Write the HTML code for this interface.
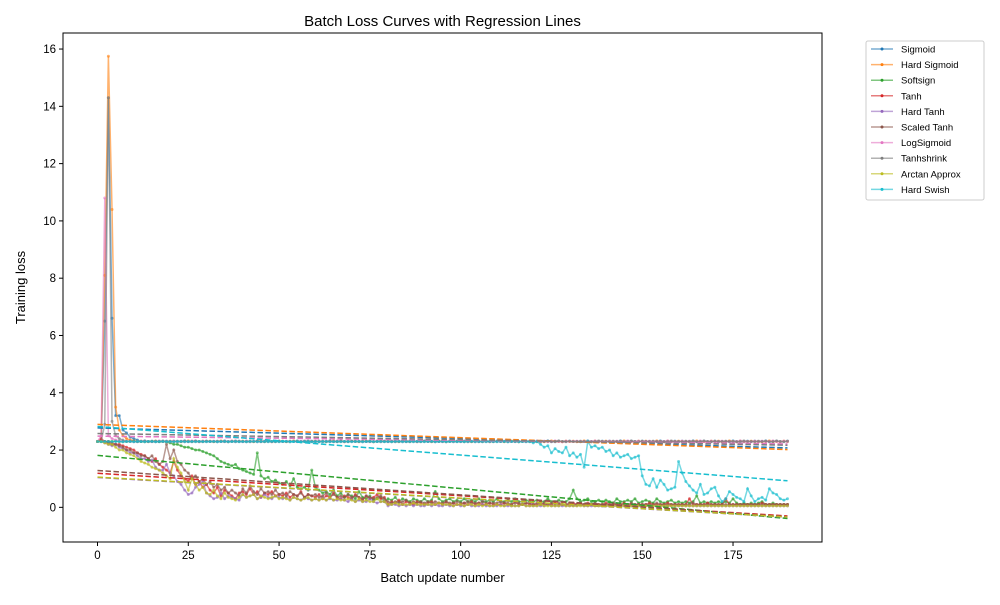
<!DOCTYPE html>
<html><head><meta charset="utf-8"><style>
body{margin:0;background:#fff;font-family:"Liberation Sans",sans-serif}
svg text{font-family:"Liberation Sans",sans-serif}
</style></head><body>
<svg id="chart" width="1000" height="600" viewBox="0 0 1000 600"></svg>
<script>
const names=["Sigmoid","Hard Sigmoid","Softsign","Tanh","Hard Tanh","Scaled Tanh","LogSigmoid","Tanhshrink","Arctan Approx","Hard Swish"];
const colors=["#1f77b4","#ff7f0e","#2ca02c","#d62728","#9467bd","#8c564b","#e377c2","#7f7f7f","#bcbd22","#17becf"];
const xTicks=[0,25,50,75,100,125,150,175];
const yTicks=[0,2,4,6,8,10,12,14,16];
const sSigmoid=[2.3,2.32,6.5,14.3,6.6,3.2,3.2,2.7,2.6,2.45,
2.4,2.35,2.3,2.32,2.3,2.31,2.3,2.29,2.3,2.31,
2.3,2.31,2.29,2.3,2.32,2.3,2.29,2.31,2.3,2.3,
2.31,2.3,2.3,2.29,2.3,2.32,2.3,2.3,2.29,2.31,
2.3,2.31,2.29,2.3,2.32,2.3,2.29,2.31,2.3,2.3,
2.31,2.3,2.3,2.29,2.3,2.32,2.3,2.3,2.29,2.31,
2.3,2.31,2.29,2.3,2.32,2.3,2.29,2.31,2.3,2.3,
2.31,2.3,2.3,2.29,2.3,2.32,2.3,2.3,2.29,2.31,
2.3,2.31,2.29,2.3,2.32,2.3,2.29,2.31,2.3,2.3,
2.31,2.3,2.3,2.29,2.3,2.32,2.3,2.3,2.29,2.31,
2.3,2.31,2.29,2.3,2.32,2.3,2.29,2.31,2.3,2.3,
2.31,2.3,2.3,2.29,2.3,2.32,2.3,2.3,2.29,2.31,
2.3,2.31,2.29,2.3,2.32,2.3,2.29,2.31,2.3,2.3,
2.31,2.3,2.3,2.29,2.3,2.32,2.3,2.3,2.29,2.31,
2.3,2.31,2.29,2.3,2.32,2.3,2.29,2.31,2.3,2.3,
2.31,2.3,2.3,2.29,2.3,2.32,2.3,2.3,2.29,2.31,
2.3,2.31,2.29,2.3,2.32,2.3,2.29,2.31,2.3,2.3,
2.31,2.3,2.3,2.29,2.3,2.32,2.3,2.3,2.29,2.31,
2.3,2.31,2.29,2.3,2.32,2.3,2.29,2.31,2.3,2.3,
2.31];
const sHardSigmoid=[2.3,2.3,8.1,15.75,10.4,3.5,2.7,2.5,2.4,2.35,
2.32,2.3,2.31,2.3,2.29,2.3,2.31,2.3,2.3,2.29,
2.31,2.3,2.3,2.29,2.3,2.32,2.3,2.3,2.29,2.31,
2.3,2.31,2.29,2.3,2.32,2.3,2.29,2.31,2.3,2.3,
2.31,2.3,2.3,2.29,2.3,2.32,2.3,2.3,2.29,2.31,
2.3,2.31,2.29,2.3,2.32,2.3,2.29,2.31,2.3,2.3,
2.31,2.3,2.3,2.29,2.3,2.32,2.3,2.3,2.29,2.31,
2.3,2.31,2.29,2.3,2.32,2.3,2.29,2.31,2.3,2.3,
2.31,2.3,2.3,2.29,2.3,2.32,2.3,2.3,2.29,2.31,
2.3,2.31,2.29,2.3,2.32,2.3,2.29,2.31,2.3,2.3,
2.31,2.3,2.3,2.29,2.3,2.32,2.3,2.3,2.29,2.31,
2.3,2.31,2.29,2.3,2.32,2.3,2.29,2.31,2.3,2.3,
2.31,2.3,2.3,2.29,2.3,2.32,2.3,2.3,2.29,2.31,
2.3,2.31,2.29,2.3,2.32,2.3,2.29,2.31,2.3,2.3,
2.31,2.3,2.3,2.29,2.3,2.32,2.3,2.3,2.29,2.31,
2.3,2.31,2.29,2.3,2.32,2.3,2.29,2.31,2.3,2.3,
2.31,2.3,2.3,2.29,2.3,2.32,2.3,2.3,2.29,2.31,
2.3,2.31,2.29,2.3,2.32,2.3,2.29,2.31,2.3,2.3,
2.31,2.3,2.3,2.29,2.3,2.32,2.3,2.3,2.29,2.31,
2.3];
const sSoftsign=[2.3,2.31,2.29,2.3,2.3,2.31,2.3,2.29,2.3,2.3,
2.31,2.3,2.3,2.29,2.3,2.3,2.31,2.3,2.3,2.28,
2.25,2.2,2.2,2.15,2.1,2.1,2.05,2.0,2.0,1.95,
1.9,1.85,1.8,1.7,1.6,1.55,1.5,1.45,1.5,1.35,
1.3,1.25,1.2,1.15,1.9,1.1,1.0,1.05,0.9,0.95,
0.85,0.8,0.9,0.75,1.0,0.7,0.65,0.7,0.6,1.3,
0.7,0.6,0.5,0.55,0.45,0.6,0.4,0.5,0.35,0.45,
0.4,0.3,0.55,0.35,0.3,0.4,0.25,0.3,0.35,0.2,
0.3,0.25,0.35,0.2,0.3,0.25,0.2,0.3,0.25,0.2,
0.3,0.2,0.25,0.55,0.3,0.2,0.25,0.3,0.2,0.25,
0.2,0.3,0.2,0.25,0.2,0.3,0.2,0.2,0.25,0.2,
0.3,0.2,0.2,0.25,0.2,0.3,0.2,0.2,0.25,0.2,
0.2,0.25,0.2,0.2,0.3,0.2,0.2,0.25,0.2,0.2,
0.3,0.6,0.3,0.2,0.25,0.3,0.2,0.2,0.25,0.2,
0.25,0.2,0.15,0.3,0.2,0.2,0.25,0.2,0.3,0.15,
0.2,0.25,0.2,0.15,0.3,0.2,0.15,0.2,0.25,0.15,
0.2,0.15,0.2,0.15,0.2,0.4,0.15,0.2,0.15,0.2,
0.15,0.2,0.15,0.2,0.15,0.3,0.15,0.1,0.15,0.1,
0.15,0.1,0.15,0.2,0.1,0.1,0.15,0.1,0.1,0.1,
0.1];
const sTanh=[2.3,2.4,2.3,2.3,2.25,2.2,2.2,2.15,2.1,2.05,2.0,1.9,1.85,1.8,1.7,1.6,1.7,1.5,1.4,1.3,
1.2,1.6,1.3,1.1,1.0,0.9,1.1,0.8,0.9,0.7,0.8,0.6,0.5,0.7,0.4,0.6,0.5,0.4,0.3,0.5,
0.55,0.45,0.65,0.45,0.55,0.35,0.5,0.45,0.55,0.4,0.45,0.4,0.5,0.35,0.45,0.4,0.55,0.35,0.45,0.4,
0.35,0.45,0.3,0.4,0.35,0.5,0.35,0.3,0.4,0.35,0.3,0.45,0.35,0.25,0.4,0.3,0.35,0.45,0.3,0.35,
0.1,0.2,0.15,0.25,0.1,0.2,0.15,0.1,0.2,0.15,0.1,0.15,0.2,0.1,0.15,0.1,0.2,0.1,0.15,0.1,
0.1,0.15,0.1,0.2,0.1,0.15,0.1,0.1,0.15,0.1,0.1,0.1,0.15,0.1,0.1,0.2,0.1,0.1,0.15,0.1,
0.1,0.1,0.15,0.1,0.1,0.1,0.15,0.1,0.1,0.1,0.1,0.15,0.1,0.1,0.1,0.15,0.1,0.1,0.1,0.1,
0.15,0.1,0.1,0.1,0.1,0.15,0.1,0.1,0.1,0.1,0.1,0.1,0.15,0.1,0.1,0.1,0.1,0.15,0.1,0.1,
0.1,0.1,0.1,0.3,0.1,0.1,0.1,0.1,0.15,0.1,0.1,0.1,0.1,0.3,0.1,0.1,0.1,0.1,0.1,0.1,
0.1,0.1,0.1,0.15,0.1,0.1,0.1,0.1,0.1,0.1,0.1];
const sHardTanh=[2.3,2.3,2.25,2.2,2.15,2.2,2.1,2.05,2.0,1.9,1.9,1.8,1.7,1.7,1.6,1.65,1.4,1.3,1.3,1.5,
1.2,1.1,0.9,0.8,0.6,0.45,0.5,0.7,0.8,0.9,0.5,0.4,0.3,0.35,0.5,0.3,0.4,0.35,0.3,0.25,
0.45,0.35,0.4,0.45,0.3,0.35,0.45,0.35,0.3,0.4,0.35,0.3,0.35,0.25,0.35,0.3,0.25,0.35,0.3,0.25,
0.3,0.25,0.35,0.25,0.3,0.25,0.25,0.3,0.25,0.2,0.3,0.2,0.25,0.2,0.2,0.3,0.2,0.15,0.2,0.2,
0.05,0.1,0.1,0.05,0.1,0.05,0.1,0.05,0.1,0.05,0.05,0.1,0.05,0.1,0.05,0.05,0.1,0.05,0.05,0.1,
0.05,0.05,0.1,0.05,0.05,0.05,0.1,0.05,0.05,0.05,0.05,0.1,0.05,0.05,0.05,0.05,0.05,0.1,0.05,0.05,
0.05,0.05,0.05,0.05,0.1,0.05,0.05,0.05,0.05,0.05,0.05,0.05,0.05,0.1,0.05,0.05,0.05,0.05,0.05,0.05,
0.05,0.05,0.05,0.05,0.05,0.05,0.05,0.05,0.05,0.05,0.05,0.05,0.05,0.05,0.05,0.05,0.05,0.05,0.05,0.05,
0.05,0.05,0.05,0.05,0.05,0.05,0.05,0.05,0.05,0.05,0.05,0.05,0.05,0.05,0.05,0.05,0.05,0.05,0.05,0.05,
0.05,0.05,0.05,0.05,0.05,0.05,0.05,0.05,0.05,0.05,0.05];
const sScaledTanh=[2.3,2.3,2.3,2.25,2.2,2.2,2.15,2.1,2.0,2.0,1.9,1.9,1.8,1.8,1.7,1.8,1.6,1.5,1.6,2.2,
1.7,2.0,1.6,1.5,1.3,1.2,1.0,1.1,0.9,1.0,0.8,0.9,0.7,0.8,0.6,0.7,0.5,0.6,0.5,0.4,
0.65,0.5,0.75,0.55,0.45,0.65,0.5,0.55,0.45,0.6,0.45,0.5,0.4,0.55,0.45,0.4,0.5,0.35,0.45,0.4,
0.45,0.35,0.4,0.5,0.35,0.45,0.35,0.4,0.35,0.45,0.35,0.4,0.35,0.3,0.4,0.35,0.3,0.35,0.4,0.3,
0.2,0.15,0.2,0.15,0.2,0.25,0.15,0.2,0.15,0.2,0.15,0.2,0.15,0.2,0.15,0.15,0.2,0.15,0.15,0.2,
0.15,0.15,0.2,0.15,0.15,0.15,0.2,0.15,0.15,0.15,0.15,0.2,0.15,0.15,0.1,0.15,0.15,0.1,0.15,0.15,
0.1,0.15,0.1,0.15,0.1,0.15,0.1,0.15,0.1,0.1,0.15,0.1,0.1,0.15,0.1,0.1,0.1,0.15,0.1,0.1,
0.1,0.1,0.15,0.1,0.1,0.1,0.1,0.15,0.1,0.1,0.1,0.1,0.1,0.1,0.15,0.1,0.1,0.1,0.1,0.1,
0.1,0.1,0.1,0.1,0.15,0.1,0.1,0.1,0.1,0.1,0.1,0.1,0.1,0.1,0.1,0.1,0.1,0.1,0.1,0.1,
0.1,0.1,0.1,0.1,0.1,0.1,0.1,0.1,0.1,0.1,0.1];
const sLogSigmoid=[2.3,2.5,10.8,2.5,2.4,2.35,2.32,2.3,2.31,2.3,2.29,2.3,2.31,2.3,2.3,2.29,2.3,2.32,2.3,2.3,
2.29,2.31,2.3,2.31,2.29,2.3,2.32,2.3,2.29,2.31,2.3,2.3,2.31,2.3,2.3,2.29,2.3,2.32,2.3,2.3,
2.29,2.31,2.3,2.31,2.29,2.3,2.32,2.3,2.29,2.31,2.3,2.3,2.31,2.3,2.3,2.29,2.3,2.32,2.3,2.3,
2.29,2.31,2.3,2.31,2.29,2.3,2.32,2.3,2.29,2.31,2.3,2.3,2.31,2.3,2.3,2.29,2.3,2.32,2.3,2.3,
2.29,2.31,2.3,2.31,2.29,2.3,2.32,2.3,2.29,2.31,2.3,2.3,2.31,2.3,2.3,2.29,2.3,2.32,2.3,2.3,
2.29,2.31,2.3,2.31,2.29,2.3,2.32,2.3,2.29,2.31,2.3,2.3,2.31,2.3,2.3,2.29,2.3,2.32,2.3,2.3,
2.29,2.31,2.3,2.31,2.29,2.3,2.32,2.3,2.29,2.31,2.3,2.3,2.31,2.3,2.3,2.29,2.3,2.32,2.3,2.3,
2.29,2.31,2.3,2.31,2.29,2.3,2.32,2.3,2.29,2.31,2.3,2.3,2.31,2.3,2.3,2.29,2.3,2.32,2.3,2.3,
2.29,2.31,2.3,2.31,2.29,2.3,2.32,2.3,2.29,2.31,2.3,2.3,2.31,2.3,2.3,2.29,2.3,2.32,2.3,2.3,
2.29,2.31,2.3,2.31,2.29,2.3,2.32,2.3,2.29,2.31,2.3];
const sTanhshrink=[2.3,2.3,2.9,14.3,3.0,2.5,2.4,2.35,2.3,2.31,2.3,2.29,2.3,2.31,2.3,2.3,2.29,2.3,2.32,2.3,
2.3,2.29,2.31,2.3,2.31,2.29,2.3,2.32,2.3,2.29,2.31,2.3,2.3,2.31,2.3,2.3,2.29,2.3,2.32,2.3,
2.3,2.29,2.31,2.3,2.31,2.29,2.3,2.32,2.3,2.29,2.31,2.3,2.3,2.31,2.3,2.3,2.29,2.3,2.32,2.3,
2.3,2.29,2.31,2.3,2.31,2.29,2.3,2.32,2.3,2.29,2.31,2.3,2.3,2.31,2.3,2.3,2.29,2.3,2.32,2.3,
2.3,2.29,2.31,2.3,2.31,2.29,2.3,2.32,2.3,2.29,2.31,2.3,2.3,2.31,2.3,2.3,2.29,2.3,2.32,2.3,
2.3,2.29,2.31,2.3,2.31,2.29,2.3,2.32,2.3,2.29,2.31,2.3,2.3,2.31,2.3,2.3,2.29,2.3,2.32,2.3,
2.3,2.29,2.31,2.3,2.31,2.29,2.3,2.32,2.3,2.29,2.31,2.3,2.3,2.31,2.3,2.3,2.29,2.3,2.32,2.3,
2.3,2.29,2.31,2.3,2.31,2.29,2.3,2.32,2.3,2.29,2.31,2.3,2.3,2.31,2.3,2.3,2.29,2.3,2.32,2.3,
2.3,2.29,2.31,2.3,2.31,2.29,2.3,2.32,2.3,2.29,2.31,2.3,2.3,2.31,2.3,2.3,2.29,2.3,2.32,2.3,
2.3,2.29,2.31,2.3,2.31,2.29,2.3,2.32,2.3,2.29,2.31];
const sArctan=[2.3,2.3,2.25,2.2,2.2,2.1,2.0,2.0,1.9,1.85,1.8,1.7,1.6,1.55,1.5,1.4,1.35,1.3,1.2,1.1,
1.0,1.7,1.4,1.2,0.9,0.6,1.0,0.8,0.6,0.7,0.5,0.45,0.6,0.4,0.3,0.5,0.35,0.3,0.25,0.35,
0.45,0.35,0.4,0.45,0.3,0.4,0.35,0.3,0.35,0.4,0.3,0.35,0.3,0.25,0.35,0.3,0.25,0.3,0.35,0.25,
0.3,0.25,0.3,0.25,0.35,0.25,0.3,0.25,0.25,0.3,0.25,0.2,0.3,0.2,0.25,0.2,0.2,0.3,0.2,0.2,
0.1,0.1,0.15,0.1,0.1,0.1,0.1,0.15,0.1,0.1,0.1,0.1,0.1,0.1,0.15,0.1,0.1,0.1,0.05,0.1,
0.1,0.05,0.1,0.1,0.05,0.1,0.05,0.1,0.05,0.05,0.1,0.05,0.05,0.1,0.05,0.05,0.05,0.1,0.05,0.05,
0.05,0.05,0.1,0.05,0.05,0.05,0.05,0.05,0.1,0.05,0.05,0.05,0.05,0.05,0.05,0.05,0.1,0.05,0.05,0.05,
0.05,0.05,0.05,0.05,0.05,0.05,0.05,0.05,0.05,0.05,0.05,0.05,0.05,0.05,0.05,0.05,0.05,0.05,0.05,0.05,
0.05,0.05,0.05,0.05,0.05,0.05,0.05,0.05,0.05,0.05,0.05,0.05,0.05,0.05,0.05,0.05,0.05,0.05,0.05,0.05,
0.05,0.05,0.05,0.05,0.05,0.05,0.05,0.05,0.05,0.05,0.05];
const sHardSwish=[2.3,2.29,2.3,2.3,2.29,2.3,2.3,2.29,2.3,2.3,2.29,2.3,2.3,2.29,2.3,2.3,2.29,2.3,2.3,2.29,
2.3,2.29,2.3,2.3,2.29,2.3,2.3,2.29,2.3,2.3,2.29,2.3,2.3,2.29,2.3,2.3,2.29,2.3,2.3,2.29,
2.3,2.29,2.3,2.3,2.29,2.3,2.3,2.29,2.3,2.3,2.29,2.3,2.3,2.29,2.3,2.3,2.29,2.3,2.3,2.29,
2.3,2.29,2.3,2.3,2.29,2.3,2.3,2.29,2.3,2.3,2.29,2.3,2.3,2.29,2.3,2.3,2.29,2.3,2.3,2.29,
2.3,2.29,2.3,2.3,2.29,2.3,2.3,2.29,2.3,2.3,2.29,2.3,2.3,2.29,2.3,2.3,2.29,2.3,2.3,2.29,
2.3,2.29,2.3,2.3,2.29,2.3,2.3,2.29,2.3,2.3,2.29,2.3,2.3,2.29,2.3,2.3,2.29,2.3,2.3,2.29,
2.25,2.3,2.2,2.1,2.15,1.9,2.05,1.95,1.9,2.1,1.8,1.9,1.75,1.85,1.4,2.3,2.1,2.15,2.05,2.1,
1.95,2.0,1.8,1.9,1.75,1.8,1.85,1.7,1.75,1.8,1.1,0.8,0.75,1.0,0.7,0.95,0.8,0.6,0.65,0.7,
1.6,1.2,0.9,0.75,0.6,0.5,0.8,0.45,0.5,0.65,0.7,0.4,0.2,0.3,0.55,0.45,0.35,0.3,0.2,0.65,
0.4,0.2,0.3,0.35,0.25,0.65,0.5,0.45,0.3,0.25,0.3];
const seriesList=[sSigmoid,sHardSigmoid,sSoftsign,sTanh,sHardTanh,sScaledTanh,sLogSigmoid,sTanhshrink,sArctan,sHardSwish];

const NS="http://www.w3.org/2000/svg";
const svg=document.getElementById('chart');
const L=63,R=822,T=33,B=542;
const xMin=-9.5,xMax=199.5,yMin=-1.21,yMax=16.56;
const xs=v=>L+(v-xMin)/(xMax-xMin)*(R-L);
const ys=v=>B-(v-yMin)/(yMax-yMin)*(B-T);
function mk(tag,attrs,parent){const e=document.createElementNS(NS,tag);for(const k in attrs)e.setAttribute(k,attrs[k]);(parent||svg).appendChild(e);return e;}

const title=mk('text',{x:(L+R)/2,y:26,'text-anchor':'middle','font-size':15});
title.textContent="Batch Loss Curves with Regression Lines";



const plot=mk('g',{});



seriesList.forEach((s,i)=>{
  const g=mk('g',{},plot);
  
  
  const pts=s.map((v,k)=>xs(k).toFixed(2)+','+ys(v).toFixed(2)).join(' ');
  const pl=mk('polyline',{points:pts,fill:'none',stroke:colors[i],'stroke-width':1.5,'stroke-opacity':0.6},g);
  
  
  s.forEach((v,k)=>{
    const c=mk('circle',{cx:xs(k),cy:ys(v),r:1.5,fill:colors[i],'fill-opacity':0.6},g);
    
    
  });
});
seriesList.forEach((s,i)=>{
  const n=s.length;let sx=0,sy=0,sxx=0,sxy=0;
  s.forEach((v,k)=>{sx+=k;sy+=v;sxx+=k*k;sxy+=k*v;});
  const b=(n*sxy-sx*sy)/(n*sxx-sx*sx),a=(sy-b*sx)/n;
  const ln=mk('line',{x1:xs(0),y1:ys(a),x2:xs(n-1),y2:ys(a+b*(n-1)),stroke:colors[i],'stroke-width':1.5,'stroke-dasharray':'5.5,2.5'},plot);
  
  
});

const frame=mk('rect',{x:L,y:T,width:R-L,height:B-T,fill:'none',stroke:'#000','stroke-width':1});



xTicks.forEach(t=>{
  const x=xs(t);
  const tk=mk('line',{x1:x,y1:B,x2:x,y2:B+4,stroke:'#000'});
  
  
  const tx=mk('text',{x:x,y:B+17,'text-anchor':'middle','font-size':11.5});
  tx.textContent=t;
  
  
});
yTicks.forEach(t=>{
  const y=ys(t);
  const tk=mk('line',{x1:L-4,y1:y,x2:L,y2:y,stroke:'#000'});
  
  
  const tx=mk('text',{x:L-7,y:y+4,'text-anchor':'end','font-size':11.5});
  tx.textContent=t;
  
  
});
const xl=mk('text',{x:(L+R)/2,y:582,'text-anchor':'middle','font-size':13});
xl.textContent="Batch update number";


const yl=mk('text',{x:0,y:0,'text-anchor':'middle','font-size':13,transform:'translate(25,'+((T+B)/2)+') rotate(-90)'});
yl.textContent="Training loss";



const lg=mk('g',{});


mk('rect',{x:866,y:41,width:118,height:159,rx:2,fill:'#fff',stroke:'#ccc'},lg);
names.forEach((nm,i)=>{
  const y=49+i*15.6;
  const e=mk('g',{},lg);
  
  
  mk('line',{x1:871,y1:y,x2:893,y2:y,stroke:colors[i],'stroke-width':1.5,'stroke-opacity':0.6},e);
  mk('circle',{cx:882,cy:y,r:1.5,fill:colors[i]},e);
  const t=mk('text',{x:901,y:y+3.5,'font-size':9.5},e);
  t.textContent=nm;
});
</script>
</body></html>
